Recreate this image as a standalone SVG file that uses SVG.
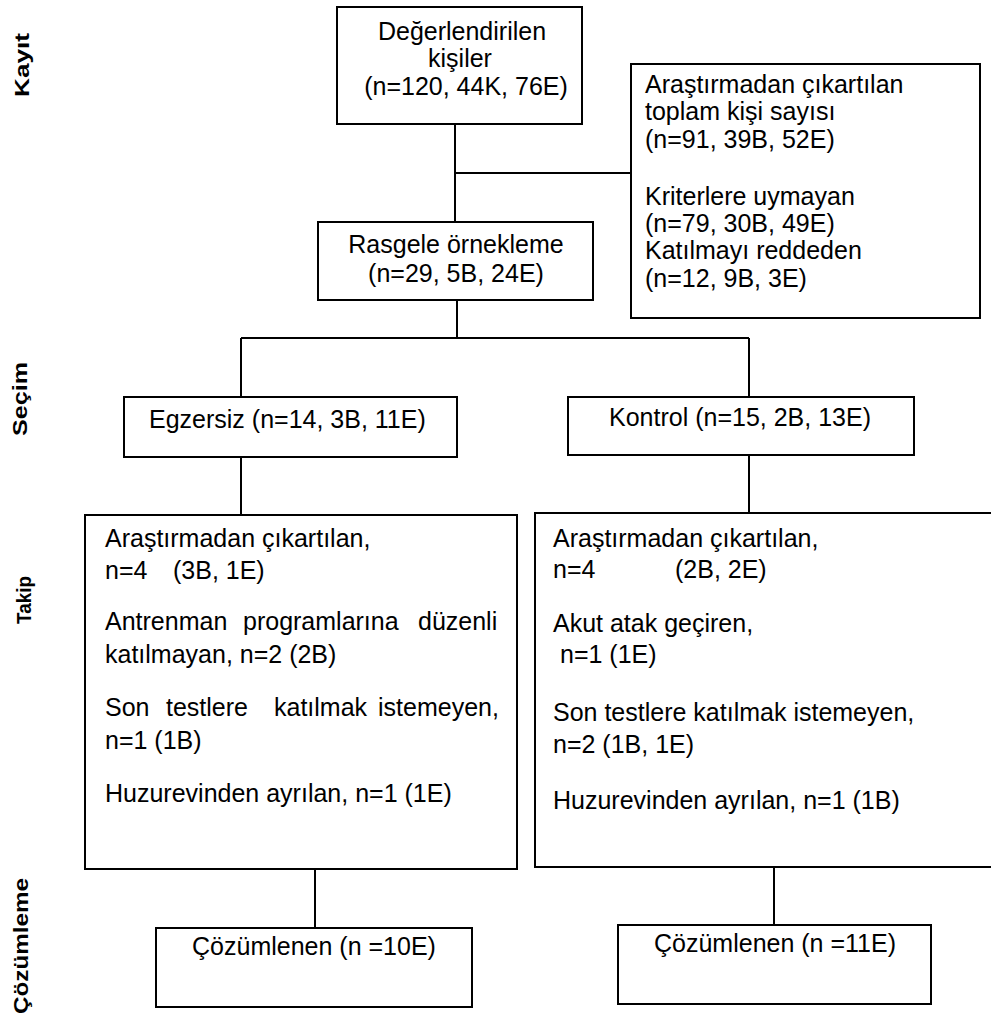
<svg xmlns="http://www.w3.org/2000/svg" width="991" height="1019" viewBox="0 0 991 1019">
<style>
.box{fill:#fff;stroke:#000;stroke-width:2}
.ln{stroke:#000;stroke-width:2;fill:none}
.t{font-family:"Liberation Sans",Arial,sans-serif;font-size:25px;fill:#000}
.lab{font-family:"Liberation Sans",Arial,sans-serif;font-size:20px;font-weight:bold;fill:#000}
</style>
<rect width="991" height="1019" fill="#fff"/>
<g id="labels">
<text class="lab" transform="translate(29,65) rotate(-90)" text-anchor="middle" textLength="64" lengthAdjust="spacingAndGlyphs">Kayıt</text>
<text class="lab" transform="translate(27,399) rotate(-90)" text-anchor="middle" textLength="74" lengthAdjust="spacingAndGlyphs">Seçim</text>
<text class="lab" transform="translate(31,600) rotate(-90)" text-anchor="middle" textLength="48" lengthAdjust="spacingAndGlyphs">Takip</text>
<text class="lab" transform="translate(28,946) rotate(-90)" text-anchor="middle" textLength="136" lengthAdjust="spacingAndGlyphs">Çözümleme</text>
</g>
<g id="connectors">
<path class="ln" d="M455 124V222M455 173H631M457 300V338M241 338H749M241 338V397M749 338V397M241 457V515M749 455V513M315 869V928M774 867V925"/>
</g>
<g id="n-degerlendirilen">
<rect class="box" x="337" y="7" width="245" height="117"/>
<text class="t" text-anchor="middle"><tspan x="462" y="40">Değerlendirilen</tspan><tspan x="460" y="67">kişiler</tspan><tspan x="466" y="95">(n=120, 44K, 76E)</tspan></text>
</g>
<g id="n-cikartilan-toplam">
<rect class="box" x="631" y="64" width="349" height="254"/>
<text class="t"><tspan x="645" y="93">Araştırmadan çıkartılan</tspan><tspan x="645" y="120">toplam kişi sayısı</tspan><tspan x="645" y="148">(n=91, 39B, 52E)</tspan><tspan x="645" y="205">Kriterlere uymayan</tspan><tspan x="645" y="232">(n=79, 30B, 49E)</tspan><tspan x="645" y="259">Katılmayı reddeden</tspan><tspan x="645" y="287">(n=12, 9B, 3E)</tspan></text>
</g>
<g id="n-rasgele">
<rect class="box" x="318" y="222" width="275" height="78"/>
<text class="t" text-anchor="middle"><tspan x="456" y="253">Rasgele örnekleme</tspan><tspan x="456" y="282">(n=29, 5B, 24E)</tspan></text>
</g>
<g id="n-egzersiz">
<rect class="box" x="124" y="397" width="333" height="60"/>
<text class="t" x="149" y="428">Egzersiz (n=14, 3B, 11E)</text>
</g>
<g id="n-kontrol">
<rect class="box" x="568" y="397" width="346" height="58"/>
<text class="t" x="609" y="426">Kontrol (n=15, 2B, 13E)</text>
</g>
<g id="n-takip-egzersiz">
<rect class="box" x="85" y="515" width="432" height="354"/>
<text class="t">
<tspan x="105" y="547">Araştırmadan çıkartılan,</tspan>
<tspan x="105" y="579">n=4</tspan><tspan x="173" y="579">(3B, 1E)</tspan>
<tspan x="105" y="630">Antrenman</tspan><tspan x="243" y="630">programlarına</tspan><tspan x="418" y="630">düzenli</tspan>
<tspan x="105" y="663">katılmayan, n=2 (2B)</tspan>
<tspan x="105" y="716">Son</tspan><tspan x="166" y="716">testlere</tspan><tspan x="274" y="716">katılmak</tspan><tspan x="378" y="716">istemeyen,</tspan>
<tspan x="105" y="749">n=1 (1B)</tspan>
<tspan x="105" y="802">Huzurevinden ayrılan, n=1 (1E)</tspan>
</text>
</g>
<g id="n-takip-kontrol">
<rect class="box" x="535" y="513" width="458" height="354"/>
<text class="t">
<tspan x="553" y="547">Araştırmadan çıkartılan,</tspan>
<tspan x="553" y="578">n=4</tspan><tspan x="675" y="578">(2B, 2E)</tspan>
<tspan x="553" y="632">Akut atak geçiren,</tspan>
<tspan x="560" y="663">n=1 (1E)</tspan>
<tspan x="553" y="721">Son testlere katılmak istemeyen,</tspan>
<tspan x="553" y="753">n=2 (1B, 1E)</tspan>
<tspan x="553" y="809">Huzurevinden ayrılan, n=1 (1B)</tspan>
</text>
</g>
<g id="n-cozumlenen-egzersiz">
<rect class="box" x="156" y="928" width="316" height="79"/>
<text class="t" x="314" y="955" text-anchor="middle">Çözümlenen (n =10E)</text>
</g>
<g id="n-cozumlenen-kontrol">
<rect class="box" x="618" y="925" width="313" height="79"/>
<text class="t" x="775" y="952" text-anchor="middle">Çözümlenen (n =11E)</text>
</g>
</svg>
